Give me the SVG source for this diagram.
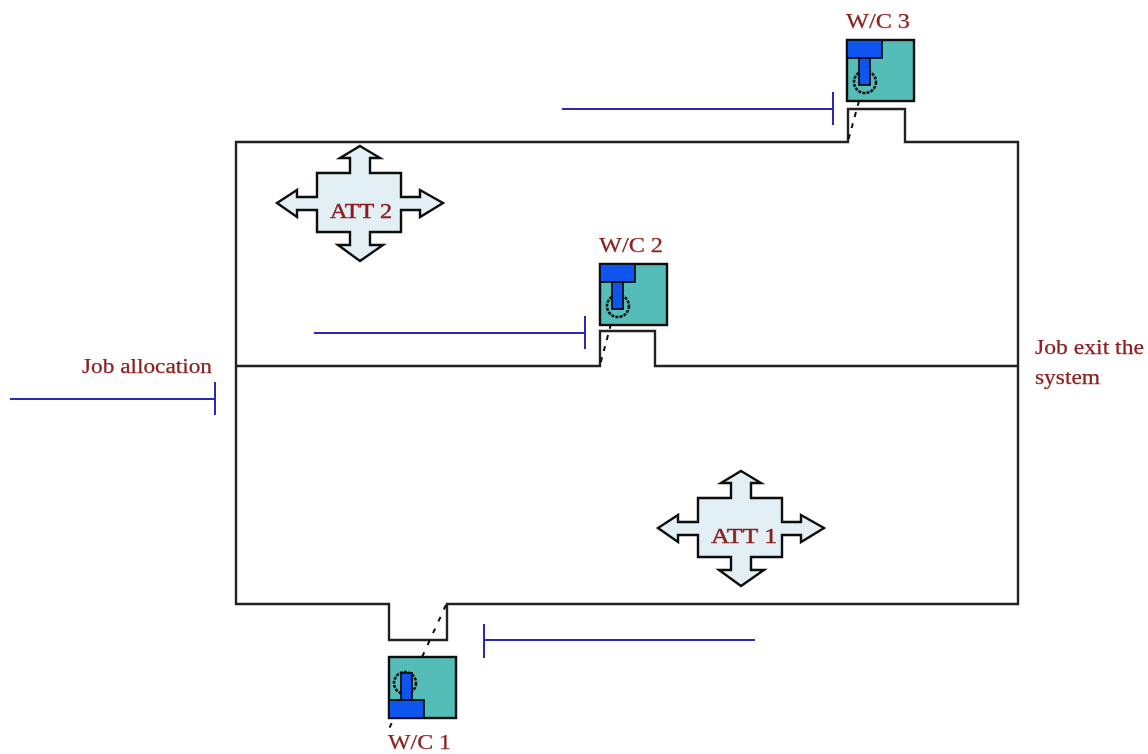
<svg xmlns="http://www.w3.org/2000/svg" xmlns:xlink="http://www.w3.org/1999/xlink" width="1148" height="754" viewBox="0 0 1148 754">
<style>
.lbl{font-family:"Liberation Serif","Times New Roman",serif;font-size:20.5px;fill:#8c2020;stroke:#8c2020;stroke-width:0.25}
.att{font-size:22px;stroke-width:0.5}
.wire{fill:none;stroke:#222;stroke-width:2.4}
.feed{fill:none;stroke:#2a2ab4;stroke-width:2}
.box{fill:#55bdb8;stroke:#111;stroke-width:2.4}
.head{fill:#0a55ee;stroke:#111;stroke-width:1.8}
.dash{fill:none;stroke:#111;stroke-width:2;stroke-dasharray:5 8}
.short{stroke-dasharray:5 6.5}
.ring{fill:none;stroke:#111;stroke-width:2.6;stroke-dasharray:3 1.2}
.cross{fill:#e2f0f6;stroke:#111;stroke-width:2.4}
</style>
<defs>
<filter id="soft" x="-2%" y="-2%" width="104%" height="104%"><feGaussianBlur stdDeviation="0.5"/></filter>
<path id="crossShape" d="M360 146L380 158H370V173H401V197H420V190L443 203L420 217V210H401V232H370V245H383L360 261L338 245H350V232H317V210H297V217L277 203L297 190V197H317V173H350V158H340Z"/>
<g id="machine">
<rect class="box" x="847" y="40" width="67" height="61"/>
<circle class="ring" cx="865" cy="82" r="11"/>
<rect class="head" x="859" y="58" width="11" height="27"/>
<rect class="head" x="847" y="40" width="35" height="18"/>
</g>
</defs>
<g filter="url(#soft)">
<g id="connectors">
<path class="wire" d="M236 142H848V109H905V142H1018V604H447V640H389V604H236Z"/>
<path class="wire" d="M236 366H600V331H655V366H1018"/>
<path class="feed" d="M562 109H833M833 92V125"/>
<path class="feed" d="M314 333H585M585 316V349"/>
<path class="feed" d="M10 399H215M215 382V415"/>
<path class="feed" d="M755 640H484M484 624V658"/>
<path class="dash short" d="M859 101L848 141"/>
<path class="dash short" d="M611 324L600 365"/>
<path class="dash" d="M446 605L388 731"/>
</g>
<g id="wc3">
<use xlink:href="#machine"/>
<text class="lbl" x="846" y="28" textLength="64" lengthAdjust="spacingAndGlyphs">W/C 3</text>
</g>
<g id="wc2">
<use xlink:href="#machine" transform="translate(-247 224)"/>
<text class="lbl" x="599" y="252" textLength="64" lengthAdjust="spacingAndGlyphs">W/C 2</text>
</g>
<g id="wc1">
<rect class="box" x="389" y="657" width="67" height="61"/>
<circle class="ring" cx="405" cy="683" r="11"/>
<rect class="head" x="401" y="673" width="11" height="27"/>
<rect class="head" x="389" y="700" width="35" height="18"/>
<text class="lbl" x="388" y="749" textLength="63" lengthAdjust="spacingAndGlyphs">W/C 1</text>
</g>
<g id="att2">
<use xlink:href="#crossShape" class="cross"/>
<text class="lbl att" x="330" y="218" textLength="62" lengthAdjust="spacingAndGlyphs">ATT 2</text>
</g>
<g id="att1">
<use xlink:href="#crossShape" class="cross" transform="translate(381 325)"/>
<text class="lbl att" x="711" y="543" textLength="66" lengthAdjust="spacingAndGlyphs">ATT 1</text>
</g>
<g id="labels">
<text class="lbl" x="82" y="373" textLength="130" lengthAdjust="spacingAndGlyphs">Job allocation</text>
<text class="lbl" x="1035" y="354" textLength="109" lengthAdjust="spacingAndGlyphs">Job exit the</text>
<text class="lbl" x="1035" y="384" textLength="65" lengthAdjust="spacingAndGlyphs">system</text>
</g>
</g>
</svg>
